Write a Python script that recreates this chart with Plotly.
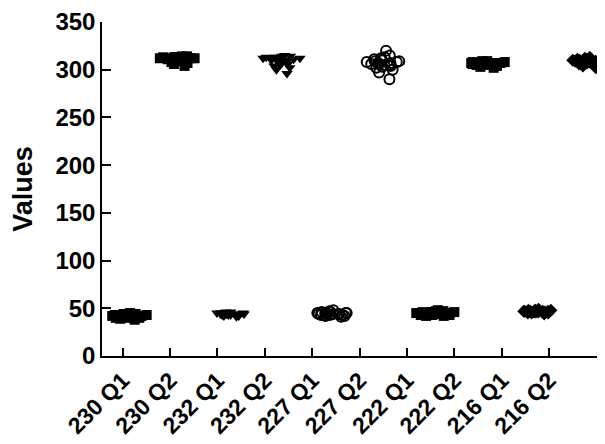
import plotly.graph_objects as go

categories = ["230 Q1", "230 Q2", "232 Q1", "232 Q2", "227 Q1",
              "227 Q2", "222 Q1", "222 Q2", "216 Q1", "216 Q2"]

v_230_q1 = [42, 43, 41, 44, 40, 42, 43, 41, 45, 39, 42, 44, 40, 43, 41, 42, 38, 44, 42, 43, 41, 40]
v_230_q2 = [312, 313, 311, 314, 312, 310, 313, 309, 311, 312, 308, 306, 313, 311, 304, 310, 312, 314, 309, 307, 311, 313]
v_232_q1 = [44, 45, 43, 44, 46, 42, 44, 45, 43, 41, 44, 45, 43, 46, 44, 42, 45, 44, 43, 45]
v_232_q2 = [314, 313, 312, 311, 315, 309, 307, 310, 304, 312, 300, 306, 313, 296, 311, 308, 302, 313, 310, 305, 312, 314]
v_227_q1 = [44, 45, 43, 46, 44, 42, 45, 47, 43, 44, 41, 45, 44, 48, 43, 44, 46, 42, 45, 44]
v_227_q2 = [306, 308, 305, 310, 312, 303, 307, 309, 300, 313, 304, 308, 306, 320, 290, 311, 307, 302, 309, 305, 297, 315]
v_222_q1 = [46, 44, 45, 47, 43, 45, 46, 44, 42, 45, 47, 44, 46, 43, 45, 48, 44, 45, 46, 43, 42, 45]
v_222_q2 = [307, 306, 308, 305, 307, 309, 304, 306, 308, 307, 303, 306, 309, 305, 307, 302, 306, 308, 307, 305]
v_216_q1 = [47, 46, 48, 45, 47, 46, 48, 44, 47, 46, 49, 45, 47, 46, 48, 47, 45, 46, 48, 47]
v_216_q2 = [309, 308, 310, 307, 311, 309, 305, 308, 310, 312, 302, 307, 309, 311, 304, 308, 310, 313, 306, 309]

series = [v_230_q1, v_230_q2, v_232_q1, v_232_q2, v_227_q1,
          v_227_q2, v_222_q1, v_222_q2, v_216_q1, v_216_q2]
symbols = ["square", "square", "triangle-down", "triangle-down", "circle-open",
           "circle-open", "square", "square", "diamond", "diamond"]

tick_positions = [-0.113 + 0.924 * i for i in range(len(categories))]

fig = go.Figure()
for i, (vals, sym) in enumerate(zip(series, symbols)):
    fig.add_trace(go.Box(
        x=[i] * len(vals), y=vals,
        boxpoints="all", jitter=1, pointpos=0, width=0.8,
        fillcolor="rgba(0,0,0,0)",
        line=dict(width=0, color="rgba(0,0,0,0)"),
        marker=dict(symbol=sym, size=10, color="black",
                    line=dict(color="black", width=2 if "open" in sym else 0)),
        showlegend=False, hoverinfo="y",
    ))

font_family = "Liberation Sans, Arial, sans-serif"
fig.update_layout(
    width=599, height=436,
    margin=dict(l=94, r=0, t=14, b=88, autoexpand=False),
    paper_bgcolor="white", plot_bgcolor="white",
    boxmode="overlay",
    font=dict(family=font_family, color="black"),
    xaxis=dict(
        range=[-0.517, 9.33], automargin=False,
        tickmode="array", tickvals=tick_positions, ticktext=categories,
        tickangle=-45, ticks="inside", ticklen=8, tickwidth=1.5, tickcolor="black",
        showline=True, linecolor="black", linewidth=1.5,
        showgrid=False, zeroline=False,
        tickfont=dict(size=23, family=font_family, weight="bold"),
        ticklabeloverflow="allow",
    ),
    yaxis=dict(
        range=[0, 350], automargin=False,
        tickmode="array", tickvals=[0, 50, 100, 150, 200, 250, 300, 350],
        ticks="inside", ticklen=9, tickwidth=1.5, tickcolor="black",
        showline=True, linecolor="black", linewidth=1.5,
        showgrid=False, zeroline=False,
        tickfont=dict(size=24, family=font_family, weight="bold"),
        ticklabeloverflow="allow",
        title=dict(text="Values", font=dict(size=27, family=font_family, weight="bold"), standoff=18),
    ),
)

fig.write_html("out.html")
